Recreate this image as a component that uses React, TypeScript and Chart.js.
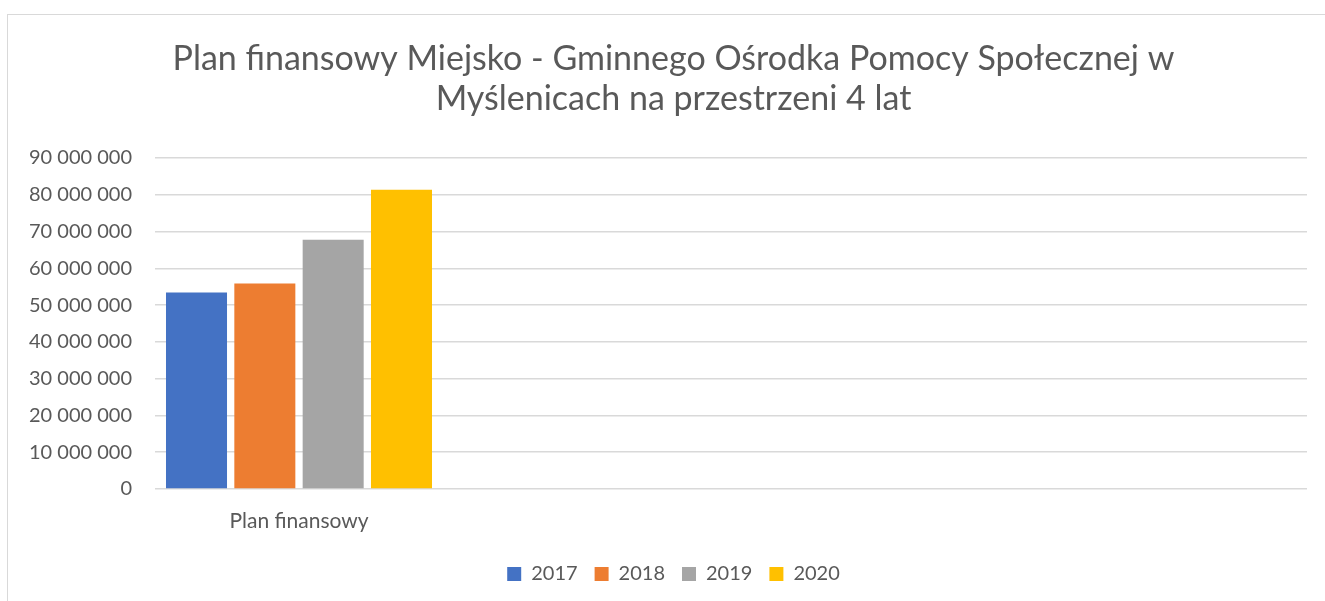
import React, { useEffect, useRef } from "react";
import { Chart, registerables } from "chart.js";

Chart.register(...registerables);

const titleLines = [
  "Plan finansowy Miejsko - Gminnego Ośrodka Pomocy Społecznej w",
  "Myślenicach na przestrzeni 4 lat",
];
const categories = ["Plan finansowy", "", "", ""];
const seriesNames = ["2017", "2018", "2019", "2020"];
const values2017 = [53400000, null, null, null];
const values2018 = [55850000, null, null, null];
const values2019 = [67750000, null, null, null];
const values2020 = [81350000, null, null, null];
const seriesColors = ["#4472C4", "#ED7D31", "#A5A5A5", "#FFC000"];
const yMin = 0;
const yMax = 90000000;
const yStep = 10000000;

const TEXT = "#595959";
const FONT = "Lato, 'Open Sans', sans-serif";

function fmt(v: number): string {
  return String(Math.round(v)).replace(/\B(?=(\d{3})+(?!\d))/g, " ");
}

// Centre the title and legend on the same span as the original (x 37 .. right edge)
const shiftBlocks = {
  id: "shiftBlocks",
  afterLayout(chart: any) {
    for (const b of [chart.titleBlock, chart.legend]) {
      if (b) {
        b.left = 40;
        b.width = b.right - b.left;
      }
    }
  },
};

export default function App() {
  const ref = useRef<HTMLCanvasElement | null>(null);

  useEffect(() => {
    if (!ref.current) return;
    const all = [values2017, values2018, values2019, values2020];
    const chart = new Chart(ref.current, {
      type: "bar",
      data: {
        labels: categories,
        datasets: all.map((d, i) => ({
          label: seriesNames[i],
          data: d,
          backgroundColor: seriesColors[i],
          borderWidth: 0,
          categoryPercentage: 0.949,
          barPercentage: 0.893,
        })),
      },
      plugins: [shiftBlocks],
      options: {
        animation: false,
        responsive: true,
        maintainAspectRatio: false,
        layout: { padding: { left: 0, right: 18, top: 10, bottom: 7 } },
        plugins: {
          tooltip: { enabled: false },
          title: {
            display: true,
            text: titleLines,
            color: TEXT,
            font: { family: FONT, size: 34, weight: "normal", lineHeight: 40 / 34 },
            padding: { top: 29, bottom: 39 },
          },
          legend: {
            position: "bottom",
            labels: {
              color: TEXT,
              font: { family: FONT, size: 20 },
              boxWidth: 14,
              boxHeight: 14,
              padding: 17,
            },
          },
        },
        scales: {
          x: {
            grid: { display: false },
            border: { display: false },
            ticks: {
              color: TEXT,
              font: { family: FONT, size: 21 },
              padding: 12,
              maxRotation: 0,
              autoSkip: false,
            },
            afterFit: (s: any) => {
              s.height = 58;
            },
          },
          y: {
            min: yMin,
            max: yMax,
            grid: { color: "#d9d9d9", lineWidth: 1.5, drawTicks: false },
            border: { display: false },
            ticks: {
              stepSize: yStep,
              color: TEXT,
              font: { family: FONT, size: 20 },
              padding: 23,
              callback: (v: any) => fmt(Number(v)),
            },
            afterFit: (s: any) => {
              s.width = 155;
            },
          },
        },
      },
    });
    return () => chart.destroy();
  }, []);

  return (
    <div
      style={{
        position: "fixed",
        left: 0,
        top: 0,
        width: 1325,
        height: 601,
        background: "#fff",
        overflow: "hidden",
      }}
    >
      <div
        style={{
          position: "absolute",
          left: 7,
          top: 14,
          width: 1400,
          height: 700,
          borderLeft: "1.5px solid #d9d9d9",
          borderTop: "1px solid #d9d9d9",
        }}
      />
      <canvas ref={ref} style={{ position: "absolute", left: 0, top: 0 }} />
    </div>
  );
}
